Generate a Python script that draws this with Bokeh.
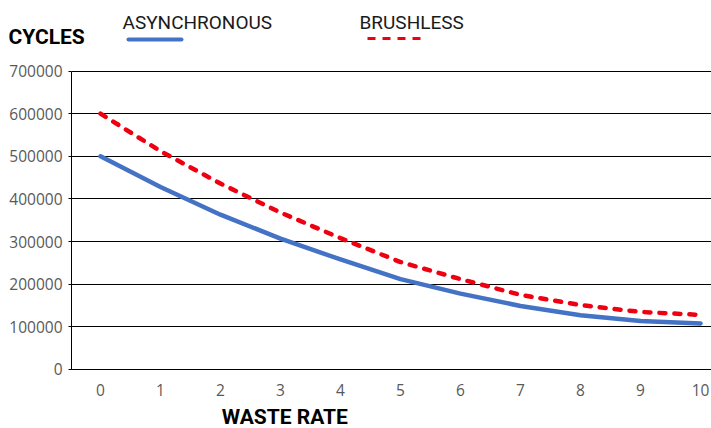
from bokeh.plotting import figure
from bokeh.models import Label, Arrow, FixedTicker, BasicTickFormatter, Range1d
from bokeh.embed import file_html
from bokeh.resources import INLINE

# ---- data ----
waste_rate = [0, 1, 2, 3, 4, 5, 6, 7, 8, 9, 10]
asynchronous = [500000, 428000, 363000, 307000, 258000, 212000, 178000, 149000, 127000, 114000, 108000]
brushless = [600000, 512000, 436000, 368000, 308000, 252000, 212000, 175000, 151000, 135000, 128000]
y_ticks = [0, 100000, 200000, 300000, 400000, 500000, 600000, 700000]
series_names = ["ASYNCHRONOUS", "BRUSHLESS"]
x_title = "WASTE RATE"
y_title = "CYCLES"

BLUE = "#4472C4"
RED = "#EE0010"
TITLEFONT = "Roboto"
TICKFONT = "Open Sans"

W, H = 711, 428
X0 = -0.4833          # left end of the plotting area (data units)
p = figure(width=W, height=H, output_backend="svg", toolbar_location=None,
           x_range=Range1d(-1.6667, 10.1833), y_range=Range1d(-138360, 865330),
           min_border_left=0, min_border_right=0, min_border_top=0, min_border_bottom=0)
p.outline_line_color = None
p.background_fill_color = "white"
p.border_fill_color = "white"

# lines
p.line(waste_rate, asynchronous, line_color=BLUE, line_width=4.5, line_cap="round", line_join="round")
p.line(waste_rate, brushless, line_color=RED, line_width=4.5, line_dash="6 9", line_cap="round", line_join="round")

# grid
p.xgrid.grid_line_color = None
p.ygrid.grid_line_color = "#000000"
p.ygrid.grid_line_width = 1
p.ygrid.ticker = FixedTicker(ticks=y_ticks)
p.ygrid.bounds = (0, 700000)
try:
    p.ygrid.cross_bounds = (X0, 10.1833)
except Exception:
    pass

# y axis
p.yaxis.fixed_location = X0
p.yaxis.bounds = (0, 700000)
p.yaxis.ticker = FixedTicker(ticks=y_ticks)
p.yaxis.formatter = BasicTickFormatter(use_scientific=False)
p.yaxis.axis_line_color = "#000000"
p.yaxis.major_tick_line_color = "#000000"
p.yaxis.major_tick_out = 3
p.yaxis.major_tick_in = 0
p.yaxis.minor_tick_line_color = None
p.yaxis.major_label_standoff = 6
p.yaxis.major_label_text_font = TICKFONT
p.yaxis.major_label_text_font_size = "15.5px"
p.yaxis.major_label_text_color = "#595959"

# x axis
p.xaxis.fixed_location = 0
p.xaxis.bounds = (X0, 10.1833)
p.xaxis.ticker = FixedTicker(ticks=waste_rate)
p.xaxis.axis_line_color = "#000000"
p.xaxis.major_tick_line_color = None
p.xaxis.major_tick_out = 0
p.xaxis.major_tick_in = 0
p.xaxis.minor_tick_line_color = None
p.xaxis.major_label_standoff = 15
p.xaxis.major_label_text_font = TICKFONT
p.xaxis.major_label_text_font_size = "15.5px"
p.xaxis.major_label_text_color = "#595959"

# titles (screen units from the bottom-left of the canvas)
p.add_layout(Label(x=8, y=391.4, x_units="screen", y_units="screen", text=y_title,
                   text_font=TITLEFONT, text_font_style="bold", text_font_size="21px",
                   text_color="#000000", text_baseline="alphabetic", text_align="left"))
p.add_layout(Label(x=284.3, y=11.4, x_units="screen", y_units="screen", text=x_title,
                   text_font=TITLEFONT, text_font_style="bold", text_font_size="21px",
                   text_color="#000000", text_baseline="alphabetic", text_align="center"))

# legend
p.add_layout(Label(x=122, y=406.1, x_units="screen", y_units="screen", text=series_names[0],
                   text_font=TITLEFONT, text_font_size="19px",
                   text_color="#1a1a1a", text_baseline="alphabetic", text_align="left"))
p.add_layout(Label(x=359, y=406.1, x_units="screen", y_units="screen", text=series_names[1],
                   text_font=TITLEFONT, text_font_size="19px",
                   text_color="#1a1a1a", text_baseline="alphabetic", text_align="left"))
p.add_layout(Arrow(end=None, x_start=128, y_start=H - 39, x_end=181, y_end=H - 39,
                   start_units="screen", end_units="screen",
                   line_color=BLUE, line_width=4, line_cap="round"))
p.add_layout(Arrow(end=None, x_start=367, y_start=H - 38, x_end=423, y_end=H - 38,
                   start_units="screen", end_units="screen",
                   line_color=RED, line_width=3, line_dash="8 7"))

open("out.html", "w").write(file_html(p, INLINE))
